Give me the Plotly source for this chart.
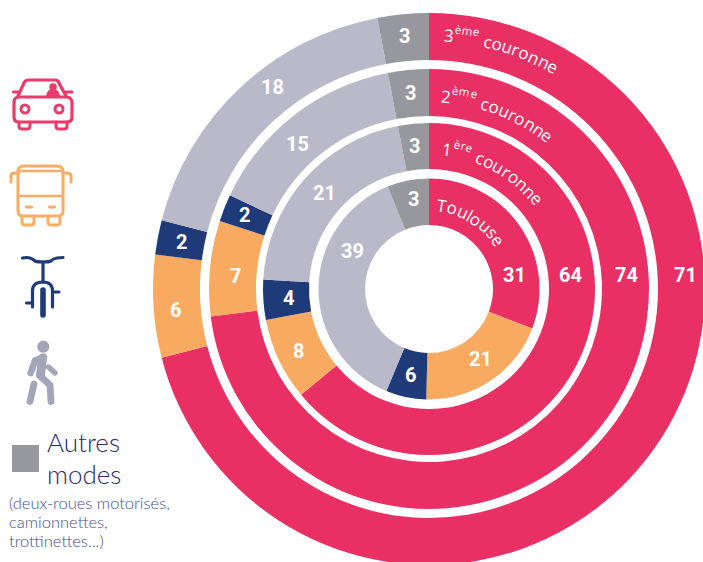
import math
import plotly.graph_objects as go

W, H = 720, 580  # slightly larger than the window: the outer ring runs off the frame, as in the reference
modes = ["Voiture", "Transports en commun", "Vélo", "Marche", "Autres modes"]

# Values printed on each ring
toulouse_labels = [31, 21, 6, 39, 3]
couronne_1_labels = [64, 8, 4, 21, 3]
couronne_2_labels = [74, 7, 2, 15, 3]
couronne_3_labels = [71, 6, 2, 18, 3]

# Shares as drawn (read from the slice edges; the source drawing differs a little from its labels)
toulouse = [30.8, 19.6, 5.9, 37.6, 6.1]
couronne_1 = [64, 8, 3.9, 21.1, 3]
couronne_2 = [73, 7, 2, 15, 3]
couronne_3 = [71, 6, 2, 18, 3]

PINK, ORANGE, NAVY, LAV, GRAY = "#E83064", "#F8AB60", "#1F3A78", "#B9B9C9", "#97989E"
colors = [PINK, ORANGE, NAVY, LAV, GRAY]
CX, CY = 429, 289

rings = [
    (couronne_3, couronne_3_labels, 276, 229, [(685, 275), (175, 310), (181, 242), (272, 87), (404, 36)]),
    (couronne_2, couronne_2_labels, 220, 173, [(626, 275), (235, 276), (244, 215), (297, 144), (410, 93)]),
    (couronne_1, couronne_1_labels, 166, 120, [(570, 275), (298, 351), (288, 298), (324, 193), (414, 146)]),
    (toulouse, toulouse_labels, 110.5, 64, [(514, 275), (480, 359), (410, 375), (352, 251), (413, 199)]),
]

fig = go.Figure()
anns = []


def note(x, y, text, size, color, font="Roboto", anchor="center", angle=0, weight=None):
    f = dict(family=font, size=size, color=color)
    if weight:
        f["weight"] = weight
    anns.append(dict(x=x, y=y, xref="x", yref="y", text=text, showarrow=False,
                     xanchor=anchor, yanchor="middle", textangle=angle, font=f))


for shares, labels, ro, ri, spots in rings:
    fig.add_trace(go.Pie(
        values=shares, labels=modes, sort=False, direction="clockwise", rotation=0,
        hole=ri / ro, textinfo="none", showlegend=False,
        marker=dict(colors=colors, line=dict(width=0)),
        domain=dict(x=[(CX - ro) / W, (CX + ro) / W],
                    y=[1 - (CY + ro) / H, 1 - (CY - ro) / H]),
    ))
    for v, (x, y) in zip(labels, spots):
        note(x, y, f"<b>{v}</b>", 20, "white")

fig.add_trace(go.Scatter(x=[], y=[], showlegend=False))

# Curved ring names, set glyph by glyph along the arc
ADV = {"c": .48, "o": .60, "u": .61, "r": .41, "n": .61, "e": .56, "T": .55, "l": .25, "s": .48,
       "è": .56, "m": .93, "1": .57, "2": .57, "3": .57, " ": .30, "é": .56}
ring_names = [
    ("3", "ème", " couronne", 250, 3.4),
    ("2", "ème", " couronne", 189, 3.6),
    ("1", "ère", " couronne", 136, 5.4),
    ("Toulouse", "", "", 80, 5.5),
]
for head, sup, tail, base_r, start in ring_names:
    pos = start / 180 * math.pi * base_r
    for group, size, lift in ((head, 17, 0), (sup, 11.5, 7), (tail, 17, 0)):
        for ch in group:
            adv = ADV[ch] * size
            mid = pos + adv / 2
            th = mid / base_r
            r = base_r + lift + 4.5
            if ch != " ":
                note(CX + r * math.sin(th), CY - r * math.cos(th), ch, size, "white",
                     font="Open Sans", angle=math.degrees(th), weight=500)
            pos += adv + 0.2

# Pictograms
shapes = []


def stroke(path, color, width):
    shapes.append(dict(type="path", xref="x", yref="y", path=path,
                       line=dict(color=color, width=width), fillcolor="rgba(0,0,0,0)"))


def solid(path, color):
    shapes.append(dict(type="path", xref="x", yref="y", path=path,
                       line=dict(width=0), fillcolor=color))


def circ(cx, cy, r, color, width=0):
    shapes.append(dict(type="circle", xref="x", yref="y", x0=cx - r, x1=cx + r, y0=cy - r, y1=cy + r,
                       line=dict(color=color, width=width),
                       fillcolor="rgba(0,0,0,0)" if width else color))


CAR = "#EC3B6B"
stroke("M18,96 L24,83 Q25,80 29,80 L55,80 Q58,80 59,83 L66,96", CAR, 3.2)
stroke("M19,97 L66,97 Q72,97 72,103 L72,117 Q72,122 67,122 L19,122 Q14,122 14,117 L14,103 Q14,97 19,97 Z", CAR, 3.2)
stroke("M13.5,92 L19,92 M66,92 L72,92", CAR, 3.2)
circ(25, 109, 4, CAR, 3)
circ(59, 109, 4, CAR, 3)
stroke("M19,122 L19,126 Q19,129 22,129 L27,129 Q30,129 30,126 L30,122", CAR, 3)
stroke("M56,122 L56,126 Q56,129 59,129 L64,129 Q67,129 67,126 L67,122", CAR, 3)
circ(53, 87, 3.8, CAR)
solid("M46,96 Q47,89 53,89 Q59,89 60,96 Z", CAR)

BUS = "#F9AC63"
stroke("M18,196 L18,172 Q18,166 24,166 L57,166 Q63,166 63,172 L63,196 L63,211 Q63,216 58,216 L23,216 Q18,216 18,211 Z", BUS, 3)
stroke("M18,171 L63,171 M18,196 L63,196", BUS, 2.6)
stroke("M11,182 L11,176 Q11,173 14,173 L18,173 M63,173 L67,173 Q71,173 71,176 L71,182", BUS, 3)
stroke("M26.5,207 L31.5,207 M49.5,207 L54.5,207", BUS, 3.2)
stroke("M22,216 L22,222 Q22,225 25,225 L31,225 Q34,225 34,222 L34,216", BUS, 3)
stroke("M48,216 L48,222 Q48,225 51,225 L57,225 Q60,225 60,222 L60,216", BUS, 3)

BIKE = "#1F3A78"
stroke("M22.5,258 Q27,257 30,258 Q33,259 35,261 Q37,262 43,262 Q49,262 51,261 Q53,258.5 57,258 L63,257.5", BIKE, 3.2)
stroke("M43,262 L43,282", BIKE, 3.2)
stroke("M32.5,307 L32.5,291 Q32.5,282 43,282 Q52.5,282 52.5,291 L52.5,307", BIKE, 3.2)
stroke("M26.5,303 L32.5,303 M52.5,292 L59,292", BIKE, 3.2)
stroke("M43,290 L43,315", BIKE, 5.6)

WALK = "#A3A6B8"
circ(43.3, 346.7, 6.1, WALK)
stroke("M44,357 L35,360.5 L30.7,373", WALK, 6.6)
stroke("M42.5,358 L40.5,375", WALK, 9)
stroke("M40,376 L50,385 L51,401.5", WALK, 6.8)
stroke("M34,384 L30,401.5", WALK, 6.8)
stroke("M48.5,367 L55,373", WALK, 5.4)

solid("M12,445 L39,445 L39,472 L12,472 Z", GRAY)

INK = "#1F2C6E"
SOFT = "#454E86"
note(45, 442, "Autres", 26, INK, font="Lato", anchor="left", weight=300)
note(45, 474, "modes", 26, INK, font="Lato", anchor="left", weight=300)
note(7, 503, "(deux-roues motorisés,", 16.5, SOFT, font="Lato", anchor="left", weight=300)
note(7, 522, "camionnettes,", 16.5, SOFT, font="Lato", anchor="left", weight=300)
note(7, 541, "trottinettes...)", 16.5, SOFT, font="Lato", anchor="left", weight=300)

fig.update_layout(
    width=W, height=H, margin=dict(l=0, r=0, t=0, b=0, pad=0),
    paper_bgcolor="white", plot_bgcolor="rgba(0,0,0,0)",
    xaxis=dict(range=[0, W], visible=False, fixedrange=True),
    yaxis=dict(range=[H, 0], visible=False, fixedrange=True),
    annotations=anns, shapes=shapes,
)
page_fix = """
document.documentElement.style.overflow = 'hidden';
document.body.style.overflow = 'hidden';
document.body.style.margin = '0';
document.querySelectorAll('.shapelayer path').forEach(function (p) {
  p.style.strokeLinecap = 'round';
  p.style.strokeLinejoin = 'round';
});
"""
fig.write_html("out.html", config=dict(displayModeBar=False), post_script=page_fix)
